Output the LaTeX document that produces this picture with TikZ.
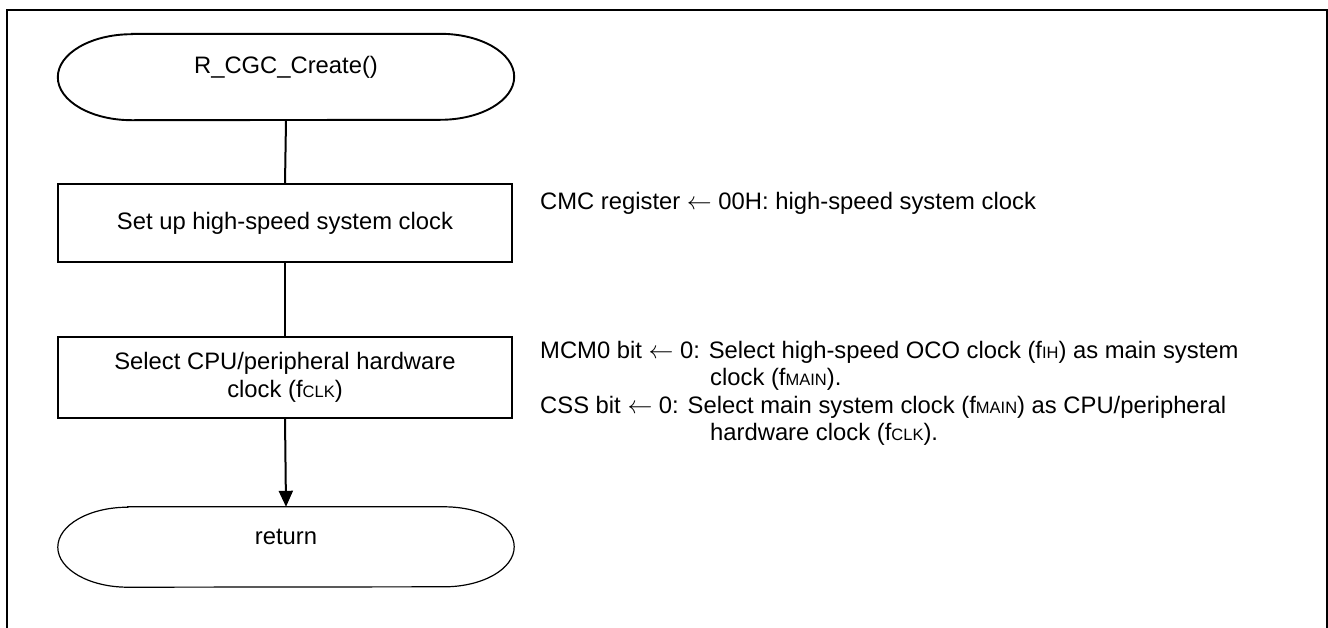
\documentclass[tikz,border=0pt]{standalone}
\usepackage{fontspec}
\setmainfont{Liberation Sans}
\usetikzlibrary{arrows.meta}
\newcommand{\smallsub}[1]{{\fontsize{16.5}{16.5}\selectfont #1}}
\newcommand{\getsarrow}{ $\leftarrow$ }
\tikzset{
  x=1pt, y=-1pt,
  box/.style={draw=none, minimum width=454pt, minimum height=78pt, inner sep=0pt},
  boxline/.style={line width=1.8pt},
  term/.style={draw=none, minimum width=456pt, minimum height=86pt, inner sep=0pt},
  txt/.style={font=\fontsize{23.8}{27.5}\selectfont, inner sep=0pt},
  note/.style={txt, anchor=base west},
  conn/.style={line width=2pt},
  frame/.style={line width=2.6pt},
}
\begin{document}
\begin{tikzpicture}
\useasboundingbox (0,0) rectangle (1328,627);
\begin{scope}
\clip (0,0) rectangle (1328,627);
\draw[frame] (7,10) rectangle (1327,700);
\end{scope}

% start terminal
\node[term] (start) at (286,77) {};
\draw[line width=1.9pt] ([xshift=74pt]start.north west) -- ([xshift=-74pt]start.north east)
  arc[start angle=90,end angle=-90,x radius=74pt,y radius=43pt]
  -- ([xshift=74pt]start.south west)
  arc[start angle=270,end angle=90,x radius=74pt,y radius=43pt] -- cycle;
\node[txt] (starttxt) at ([yshift=10pt]start.center) {R\_CGC\_Create()};

% box 1
\node[box, minimum height=78pt] (b1) at (285,223) {};
\draw[boxline] (b1.north west) rectangle (b1.south east);
\node[txt] (b1txt) at (b1.center) {Set up high-speed system clock};

% box 2
\node[box, minimum height=81pt] (b2) at (285,377.5) {};
\draw[boxline] (b2.north west) rectangle (b2.south east);
\node[txt, align=center] (b2txt) at (b2.center) {Select CPU/peripheral hardware\\clock (f\smallsub{CLK})};

% return terminal
\node[term, minimum height=80pt] (ret) at (286,547) {};
\draw[line width=1.2pt] ([xshift=70pt]ret.north west) -- ([xshift=-70pt]ret.north east)
  arc[start angle=90,end angle=-90,x radius=70pt,y radius=40pt]
  -- ([xshift=70pt]ret.south west)
  arc[start angle=270,end angle=90,x radius=70pt,y radius=40pt] -- cycle;
\node[txt] (rettxt) at ([yshift=10pt]ret.center) {return};

% connectors
\draw[conn] (start.south) -- (b1.north);
\draw[conn] (b1.south) -- (b2.north);
\draw[conn, -{Triangle[length=16pt,width=14pt]}] (b2.south) -- (ret.north);

% notes
\node[note] (n1) at (540,209) {CMC register\getsarrow 00H: high-speed system clock};
\node[note] (n2) at (540,358) {MCM0 bit\getsarrow 0: Select high-speed OCO clock (f\smallsub{IH}) as main system};
\node[note] (n3) at (710,385.5) {clock (f\smallsub{MAIN}).};
\node[note] (n4) at (540,413) {CSS bit\getsarrow 0: Select main system clock (f\smallsub{MAIN}) as CPU/peripheral};
\node[note] (n5) at (710,440.5) {hardware clock (f\smallsub{CLK}).};
\end{tikzpicture}
\end{document}
